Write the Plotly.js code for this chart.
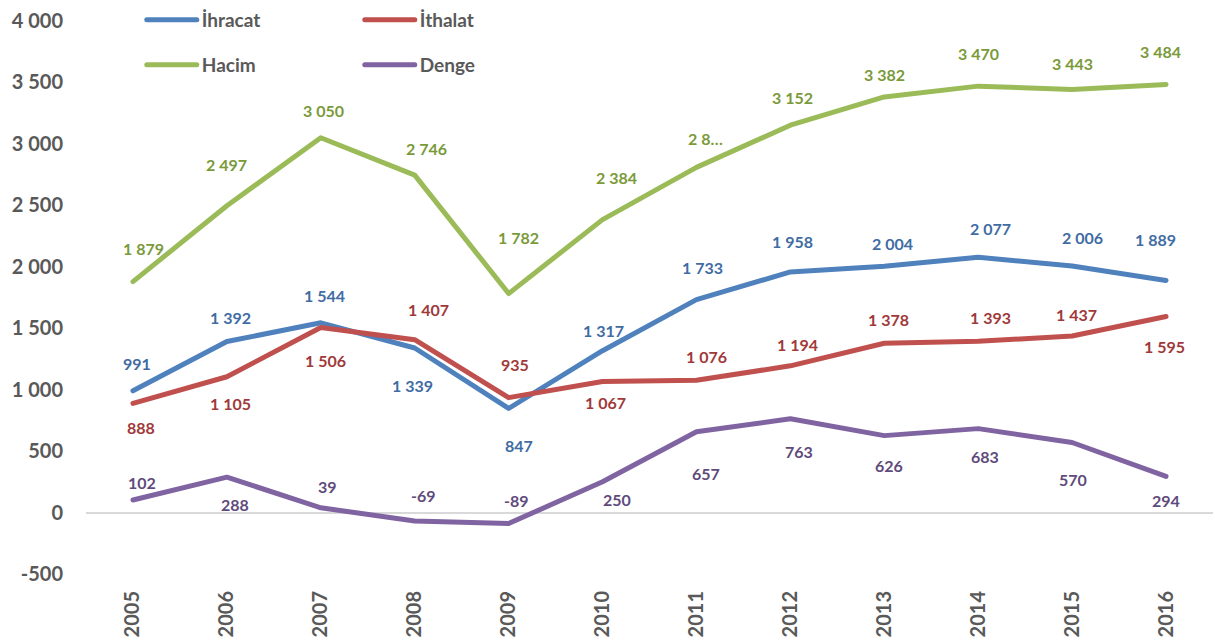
<!DOCTYPE html>
<html><head><meta charset="utf-8">
<script src="https://cdn.plot.ly/plotly-3.0.1.min.js"></script>
<style>
html,body{margin:0;padding:0;background:#fff;}
#chart{width:1215px;height:642px;}
.js-line{stroke-linecap:round !important;stroke-linejoin:round !important;}
.legendlines path{stroke-linecap:round !important;}
</style></head><body><div id="chart"></div>
<script>
// ---- data ----
const years = ['2005','2006','2007','2008','2009','2010','2011','2012','2013','2014','2015','2016'];
const ihracat = [991, 1392, 1544, 1339, 847, 1317, 1733, 1958, 2004, 2077, 2006, 1889];
const ithalat = [888, 1105, 1506, 1407, 935, 1067, 1076, 1194, 1378, 1393, 1437, 1595];
const hacim   = [1879, 2497, 3050, 2746, 1782, 2384, 2809, 3152, 3382, 3470, 3443, 3484];
const denge   = [102, 288, 39, -69, -89, 250, 657, 763, 626, 683, 570, 294];
const seriesNames = ['İhracat', 'İthalat', 'Hacim', 'Denge'];
const yTickVals = [-500, 0, 500, 1000, 1500, 2000, 2500, 3000, 3500, 4000];
const yTickText = ['-500', '0', '500', '1 000', '1 500', '2 000', '2 500', '3 000', '3 500', '4 000'];
const hacimLabelOverride = {6: '2 8…'};   // truncated label as in source

// ---- label placement (pixel offsets: dx right, dy down) ----
const offIhracat = {dx:[4,4,4,-2,10,1,6,2,8,12,10,-11], dy:[-27,-24,-27,37,37,-20,-32,-30,-23,-29,-29,-41]};
const offIthalat = {dx:[8,4,5,14,6,3,10,7,4,12,4,-2],   dy:[24,27,33,-30,-33,21,-24,-21,-24,-24,-21,30]};
const offHacim   = {dx:[11,0,3,12,10,14,9,2,0,0,0,-6],   dy:[-33,-41,-27,-27,-56,-42,-29,-28,-22,-33,-26,-33]};
const offDenge   = {dx:[9,8,7,9,8,14,10,9,5,7,1,0],      dy:[-18,27,-21,-26,-23,18,42,33,30,28,37,24]};

const lineColors  = ['#4F81BD', '#C0504D', '#9BBB59', '#8064A2'];
const labelColors = ['#3F6CA3', '#A0393A', '#7A9A3A', '#604A7B'];
const FONT = 'Lato, "Open Sans", sans-serif';

function fmt(v) {
  const s = String(Math.abs(v)).replace(/\B(?=(\d{3})+(?!\d))/g, ' ');
  return (v < 0 ? '-' : '') + s;
}

const allSeries = [ihracat, ithalat, hacim, denge];
const allOffsets = [offIhracat, offIthalat, offHacim, offDenge];
const legendIds = ['legend', 'legend', 'legend2', 'legend2'];

const traces = allSeries.map((vals, k) => ({
  type: 'scatter', mode: 'lines', x: years, y: vals, name: seriesNames[k],
  line: {color: lineColors[k], width: 5}, legend: legendIds[k], hoverinfo: 'x+y+name'
}));

const annotations = [];
allSeries.forEach((vals, k) => {
  vals.forEach((v, i) => {
    let t = fmt(v);
    if (k === 2 && hacimLabelOverride[i] !== undefined) t = hacimLabelOverride[i];
    annotations.push({
      x: i, y: v, xref: 'x', yref: 'y', text: t, showarrow: false,   // x = category index of years[i]
      xanchor: 'center', yanchor: 'middle',
      xshift: allOffsets[k].dx[i], yshift: -allOffsets[k].dy[i],
      font: {family: FONT, size: 16, color: labelColors[k], weight: 'bold'}
    });
  });
});

const legendCommon = {
  orientation: 'h', xref: 'paper', yref: 'paper', xanchor: 'left', yanchor: 'middle',
  bgcolor: 'rgba(0,0,0,0)', font: {family: FONT, size: 19, color: '#595959', weight: 'bold'},
  entrywidth: 153, itemwidth: 50
};

const layout = {
  width: 1215, height: 642,
  margin: {l: 86, r: 2, t: 20, b: 68},
  paper_bgcolor: '#fff', plot_bgcolor: '#fff',
  showlegend: true,
  legend: Object.assign({}, legendCommon, {x: 0.0495, y: 1.0}),
  legend2: Object.assign({}, legendCommon, {x: 0.0495, y: 0.919}),
  xaxis: {
    type: 'category', range: [-0.5, 11.5], showgrid: false, showline: false, zeroline: false,
    ticks: '', tickangle: -90, ticklabelstandoff: 12,
    tickfont: {family: FONT, size: 20, color: '#595959', weight: 'bold'}
  },
  yaxis: {
    range: [-500, 4000], tickvals: yTickVals, ticktext: yTickText,
    showgrid: false, showline: false, zeroline: true, zerolinecolor: '#D9D9D9', zerolinewidth: 1.5,
    ticks: '', ticklabelstandoff: 22,
    tickfont: {family: FONT, size: 20, color: '#595959', weight: 'bold'}
  },
  annotations: annotations
};

Plotly.newPlot('chart', traces, layout, {displayModeBar: false});
</script></body></html>
